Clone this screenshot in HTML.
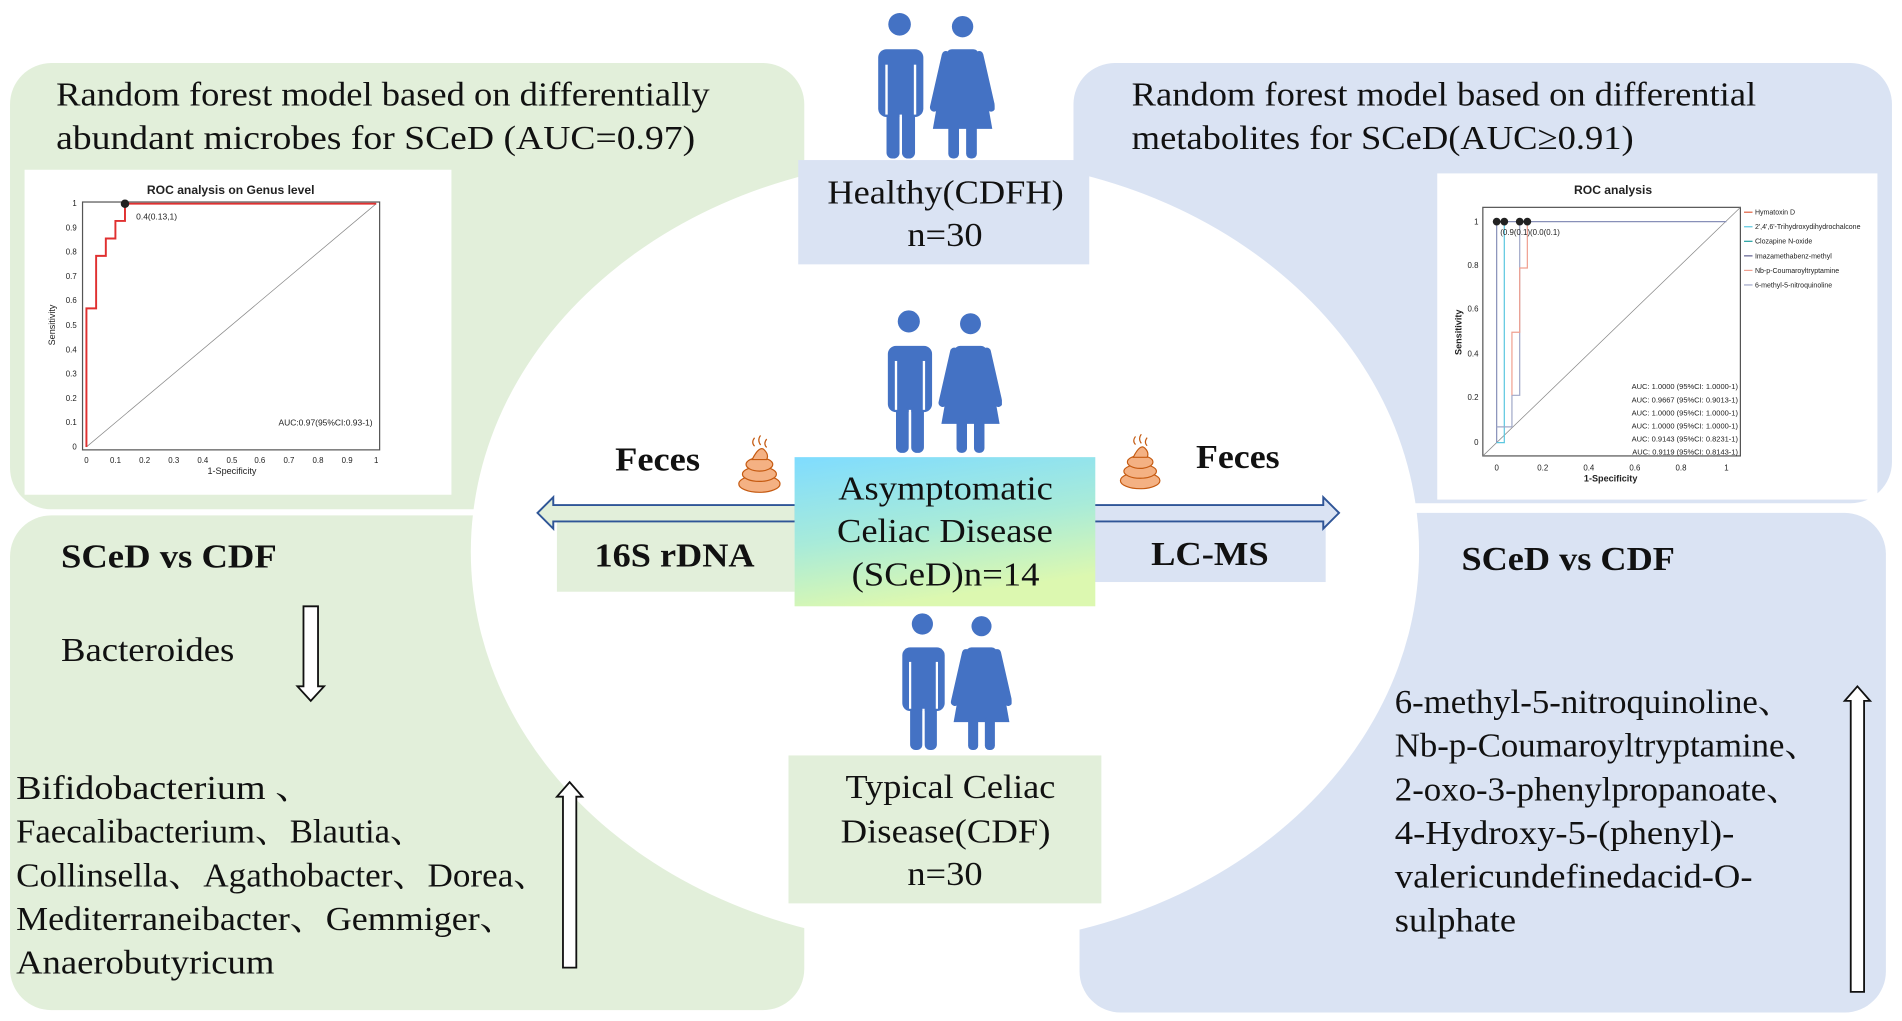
<!DOCTYPE html>
<html><head><meta charset="utf-8"><style>
html,body{margin:0;padding:0;background:#fff;width:1902px;height:1021px;overflow:hidden}
svg{display:block}
.s{font-family:"Liberation Serif","Noto Serif CJK SC",serif;fill:#111}
.a{font-family:"Liberation Sans",Arial,sans-serif;fill:#222}
</style></head><body>
<svg width="1902" height="1021" viewBox="0 0 1568 842" xmlns="http://www.w3.org/2000/svg">
<defs>
<symbol id="cp" viewBox="0 0 100 126">
<g fill="#4472c4">
<circle cx="20" cy="12" r="9.5"/>
<rect x="2" y="33" width="38" height="57" rx="7"/>
<rect x="9" y="85" width="11" height="40" rx="5"/>
<rect x="22" y="85" width="11" height="40" rx="5"/>
<circle cx="73" cy="14" r="9"/>
<path d="M64 33 L82 33 Q86 33 87 38 L98 100 L48 100 L59 38 Q60 33 64 33Z"/>
<rect x="61" y="95" width="9" height="30" rx="4"/>
<rect x="76" y="95" width="9" height="30" rx="4"/>
<line x1="59" y1="38" x2="49" y2="82" stroke="#4472c4" stroke-width="7" stroke-linecap="round"/>
<line x1="87" y1="38" x2="97" y2="82" stroke="#4472c4" stroke-width="7" stroke-linecap="round"/>
</g>
<g fill="#fff"><rect x="8" y="46" width="2" height="42"/><rect x="32" y="46" width="2" height="42"/><rect x="20" y="88" width="2" height="37"/></g>
</symbol>
<symbol id="poop" viewBox="0 0 48 48">
<g stroke="#c55a11" stroke-width="1" fill="none"><path d="M20 2 q-3 4 0 7 M25 0 q-3 4 0 8 M30 3 q-3 4 0 7"/></g>
<g fill="#f4b183" stroke="#c55a11" stroke-width="1">
<ellipse cx="24" cy="40" rx="17" ry="7"/>
<ellipse cx="24" cy="32" rx="14" ry="6"/>
<ellipse cx="24" cy="24" rx="11" ry="5.5"/>
<path d="M18 20 Q24 8 28 12 Q32 16 30 20Z"/>
</g>
</symbol>
<linearGradient id="cg" x1="0" y1="0" x2="0.3" y2="1"><stop offset="0" stop-color="#7fdcff"/><stop offset="0.55" stop-color="#a8ebd9"/><stop offset="1" stop-color="#dcf8b0"/></linearGradient>
</defs>

<rect x="8" y="52" width="655" height="368" rx="34" fill="#e2efda"/>
<rect x="8" y="425" width="655" height="408" rx="34" fill="#e2efda"/>
<rect x="885" y="52" width="675" height="363" rx="34" fill="#dae3f3"/>
<rect x="890" y="423" width="665" height="412" rx="34" fill="#dae3f3"/>
<ellipse cx="779" cy="455" rx="391" ry="325" fill="#fff"/>

<g class="s" font-size="28" lengthAdjust="spacingAndGlyphs">
<text x="46" y="87" textLength="539" lengthAdjust="spacingAndGlyphs">Random forest model based on differentially</text>
<text x="46" y="123" textLength="527" lengthAdjust="spacingAndGlyphs">abundant microbes for SCeD   (AUC=0.97)</text>
<text x="933" y="87" textLength="515" lengthAdjust="spacingAndGlyphs">Random forest model based on differential</text>
<text x="933" y="123" textLength="414" lengthAdjust="spacingAndGlyphs">metabolites for SCeD(AUC≥0.91)</text>
</g>

<!-- left ROC -->
<rect x="20" y="140" width="352" height="268" fill="#fff"/>
<text class="a" x="190" y="160" font-size="10" font-weight="bold" text-anchor="middle">ROC analysis on Genus level</text>
<rect x="67.8" y="166.6" width="245" height="204.4" fill="none" stroke="#555" stroke-width="1"/>
<line x1="71" y1="368.6" x2="310" y2="168" stroke="#888" stroke-width="0.6"/>
<polyline fill="none" stroke="#e03030" stroke-width="1.6" points="71,368.6 71,254.3 79,254.3 79,211 87,211 87,196.7 94.9,196.7 94.9,182.2 102.8,182.2 102.8,168 310,168"/>
<circle cx="102.8" cy="168" r="3.5" fill="#222"/>
<text class="a" x="112" y="181" font-size="7">0.4(0.13,1)</text>
<text class="a" x="307" y="351" font-size="7" text-anchor="end">AUC:0.97(95%CI:0.93-1)</text>
<g class="a" font-size="6.5" text-anchor="end">
<text x="63" y="370.5">0</text><text x="63" y="350.5">0.1</text><text x="63" y="330.5">0.2</text><text x="63" y="310.5">0.3</text><text x="63" y="290.5">0.4</text><text x="63" y="270.5">0.5</text><text x="63" y="250">0.6</text><text x="63" y="230">0.7</text><text x="63" y="210">0.8</text><text x="63" y="190">0.9</text><text x="63" y="170">1</text>
</g>
<g class="a" font-size="6.5" text-anchor="middle">
<text x="71" y="382">0</text><text x="95" y="382">0.1</text><text x="119" y="382">0.2</text><text x="143" y="382">0.3</text><text x="167" y="382">0.4</text><text x="191" y="382">0.5</text><text x="214" y="382">0.6</text><text x="238" y="382">0.7</text><text x="262" y="382">0.8</text><text x="286" y="382">0.9</text><text x="310" y="382">1</text>
</g>
<text class="a" x="191" y="391" font-size="7.5" text-anchor="middle">1-Specificity</text>
<text class="a" x="45" y="268" font-size="7.5" text-anchor="middle" transform="rotate(-90 45 268)">Sensitivity</text>

<!-- right ROC -->
<rect x="1185" y="143" width="363" height="269" fill="#fff"/>
<text class="a" x="1330" y="160" font-size="10" font-weight="bold" text-anchor="middle">ROC analysis</text>
<rect x="1222.6" y="171" width="212.4" height="205" fill="none" stroke="#555" stroke-width="1"/>
<line x1="1222.6" y1="376" x2="1435" y2="171" stroke="#888" stroke-width="0.6"/>
<polyline fill="none" stroke="#8890b8" stroke-width="1" points="1234,365 1234,182.8 1423.5,182.8"/>
<polyline fill="none" stroke="#5bc8e0" stroke-width="1" points="1234,365 1240.3,365 1240.3,182.8"/>
<polyline fill="none" stroke="#a0a8c8" stroke-width="1" points="1234,352 1246.6,352 1246.6,326 1253,326 1253,182.8"/>
<polyline fill="none" stroke="#f0a090" stroke-width="1" points="1246.6,326 1246.6,274 1253,274 1253,221 1259.3,221 1259.3,182.8"/>
<g fill="#222"><circle cx="1234" cy="182.8" r="3.2"/><circle cx="1240.3" cy="182.8" r="3.2"/><circle cx="1253" cy="182.8" r="3.2"/><circle cx="1259.3" cy="182.8" r="3.2"/></g>
<text class="a" x="1237" y="194" font-size="6.5">(0.9(0.1)(0.0(0.1)</text>
<g class="a" font-size="6.2" text-anchor="end">
<text x="1433" y="321">AUC: 1.0000 (95%CI: 1.0000-1)</text>
<text x="1433" y="332">AUC: 0.9667 (95%CI: 0.9013-1)</text>
<text x="1433" y="342.5">AUC: 1.0000 (95%CI: 1.0000-1)</text>
<text x="1433" y="353.5">AUC: 1.0000 (95%CI: 1.0000-1)</text>
<text x="1433" y="364">AUC: 0.9143 (95%CI: 0.8231-1)</text>
<text x="1433" y="375">AUC: 0.9119 (95%CI: 0.8143-1)</text>
</g>
<g class="a" font-size="6.5" text-anchor="end">
<text x="1219" y="367">0</text><text x="1219" y="330">0.2</text><text x="1219" y="294">0.4</text><text x="1219" y="257">0.6</text><text x="1219" y="221">0.8</text><text x="1219" y="185">1</text>
</g>
<g class="a" font-size="6.5" text-anchor="middle">
<text x="1234" y="388">0</text><text x="1272" y="388">0.2</text><text x="1310" y="388">0.4</text><text x="1348" y="388">0.6</text><text x="1386" y="388">0.8</text><text x="1423.5" y="388">1</text>
</g>
<text class="a" x="1328" y="397" font-size="7.5" font-weight="bold" text-anchor="middle">1-Specificity</text>
<text class="a" x="1205" y="274" font-size="7.5" font-weight="bold" text-anchor="middle" transform="rotate(-90 1205 274)">Sensitivity</text>
<g font-size="5.8" class="a">
<line x1="1438" y1="175" x2="1445" y2="175" stroke="#e06040"/><text x="1447" y="177">Hymatoxin D</text>
<line x1="1438" y1="187" x2="1445" y2="187" stroke="#5bc8e0"/><text x="1447" y="189">2',4',6'-Trihydroxydihydrochalcone</text>
<line x1="1438" y1="199" x2="1445" y2="199" stroke="#20a0a0"/><text x="1447" y="201">Clozapine N-oxide</text>
<line x1="1438" y1="211" x2="1445" y2="211" stroke="#606090"/><text x="1447" y="213">Imazamethabenz-methyl</text>
<line x1="1438" y1="223" x2="1445" y2="223" stroke="#f0a090"/><text x="1447" y="225">Nb-p-Coumaroyltryptamine</text>
<line x1="1438" y1="235" x2="1445" y2="235" stroke="#a0a8c8"/><text x="1447" y="237">6-methyl-5-nitroquinoline</text>
</g>

<use href="#cp" x="722" y="8" width="98" height="124"/>
<use href="#cp" x="730" y="253" width="96" height="122"/>
<use href="#cp" x="742" y="503" width="92" height="117"/>

<rect x="658" y="132" width="240" height="86" fill="#dae3f3"/>
<g class="s" font-size="28">
<text x="682" y="168" textLength="195" lengthAdjust="spacingAndGlyphs">Healthy(CDFH)</text>
<text x="748" y="203" textLength="62" lengthAdjust="spacingAndGlyphs">n=30</text>
</g>

<rect x="650" y="623" width="258" height="122" fill="#e2efda"/>
<g class="s" font-size="28">
<text x="697" y="658" textLength="173" lengthAdjust="spacingAndGlyphs">Typical Celiac</text>
<text x="693" y="695" textLength="173" lengthAdjust="spacingAndGlyphs">Disease(CDF)</text>
<text x="748" y="730" textLength="62" lengthAdjust="spacingAndGlyphs">n=30</text>
</g>

<rect x="459" y="430" width="196" height="58" fill="#e2efda"/>
<text class="s" x="490" y="467" font-size="28" font-weight="bold" textLength="132" lengthAdjust="spacingAndGlyphs">16S rDNA</text>
<rect x="900" y="430" width="193" height="50" fill="#dae3f3"/>
<text class="s" x="949" y="466" font-size="28" font-weight="bold" textLength="97" lengthAdjust="spacingAndGlyphs">LC-MS</text>

<path d="M656 416.5 L456 416.5 L456 410 L443 423 L456 436 L456 430 L656 430Z" fill="#e2efda" stroke="#2f5597" stroke-width="1.6"/>
<path d="M899 416.5 L1091 416.5 L1091 410 L1104 423 L1091 436 L1091 430 L899 430Z" fill="#dae3f3" stroke="#2f5597" stroke-width="1.6"/>

<rect x="655" y="377" width="248" height="123" fill="url(#cg)"/>
<g class="s" font-size="28">
<text x="691" y="412" textLength="177" lengthAdjust="spacingAndGlyphs">Asymptomatic</text>
<text x="690" y="447" textLength="178" lengthAdjust="spacingAndGlyphs">Celiac Disease</text>
<text x="702" y="483" textLength="155" lengthAdjust="spacingAndGlyphs">(SCeD)n=14</text>
</g>

<text class="s" x="507" y="388" font-size="28" font-weight="bold" textLength="70" lengthAdjust="spacingAndGlyphs">Feces</text>
<text class="s" x="986" y="386" font-size="28" font-weight="bold" textLength="69" lengthAdjust="spacingAndGlyphs">Feces</text>
<use href="#poop" x="602" y="359" width="48" height="48"/>
<use href="#poop" x="917" y="358" width="46" height="46"/>

<text class="s" x="50" y="468" font-size="28" font-weight="bold" textLength="178" lengthAdjust="spacingAndGlyphs">SCeD vs CDF</text>
<text class="s" x="50" y="545" font-size="28" textLength="143" lengthAdjust="spacingAndGlyphs">Bacteroides</text>
<path d="M250 500 L262 500 L262 566 L267 566 L256 578 L245 566 L250 566Z" fill="#fff" stroke="#111" stroke-width="1.5"/>
<g class="s" font-size="28">
<text x="13" y="659" textLength="245" lengthAdjust="spacingAndGlyphs">Bifidobacterium 、</text>
<text x="13" y="695" textLength="337" lengthAdjust="spacingAndGlyphs">Faecalibacterium、Blautia、</text>
<text x="13" y="731" textLength="439" lengthAdjust="spacingAndGlyphs">Collinsella、Agathobacter、Dorea、</text>
<text x="13" y="767" textLength="412" lengthAdjust="spacingAndGlyphs">Mediterraneibacter、Gemmiger、</text>
<text x="13" y="803" textLength="213" lengthAdjust="spacingAndGlyphs">Anaerobutyricum</text>
</g>
<path d="M464 798 L475 798 L475 657 L480 657 L469.5 645 L459 657 L464 657Z" fill="#fff" stroke="#111" stroke-width="1.5"/>

<text class="s" x="1205" y="470" font-size="28" font-weight="bold" textLength="176" lengthAdjust="spacingAndGlyphs">SCeD vs CDF</text>
<g class="s" font-size="28">
<text x="1150" y="588" textLength="328" lengthAdjust="spacingAndGlyphs">6-methyl-5-nitroquinoline、</text>
<text x="1150" y="624" textLength="350" lengthAdjust="spacingAndGlyphs">Nb-p-Coumaroyltryptamine、</text>
<text x="1150" y="660" textLength="335" lengthAdjust="spacingAndGlyphs">2-oxo-3-phenylpropanoate、</text>
<text x="1150" y="696" textLength="280" lengthAdjust="spacingAndGlyphs">4-Hydroxy-5-(phenyl)-</text>
<text x="1150" y="732" textLength="295" lengthAdjust="spacingAndGlyphs">valericundefinedacid-O-</text>
<text x="1150" y="768" textLength="100" lengthAdjust="spacingAndGlyphs">sulphate</text>
</g>
<path d="M1526 818 L1537 818 L1537 578 L1542 578 L1531.5 566 L1521 578 L1526 578Z" fill="#fff" stroke="#111" stroke-width="1.5"/>
</svg>
</body></html>
